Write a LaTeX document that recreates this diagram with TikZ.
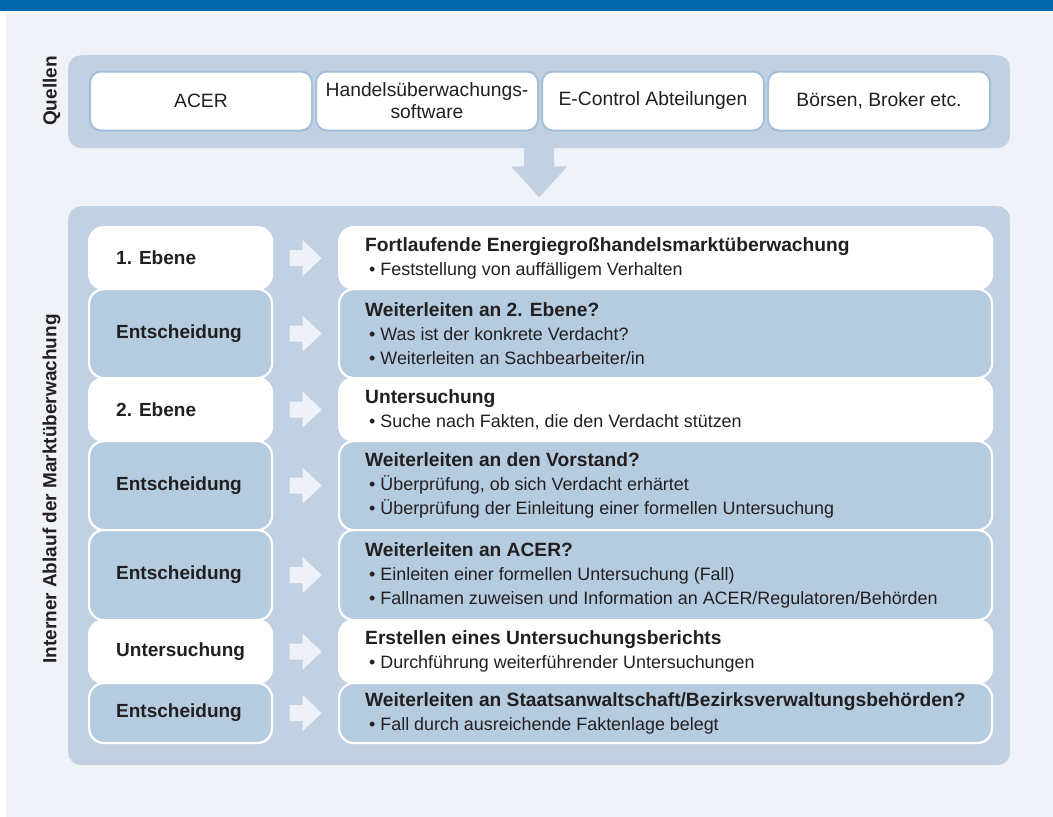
\documentclass[tikz,border=0pt]{standalone}
\usepackage{fontspec}
\setmainfont{Liberation Sans}
\usetikzlibrary{calc}
\definecolor{barblue}{HTML}{0069AD}
\definecolor{bglight}{HTML}{EFF3F8}
\definecolor{panelc}{HTML}{C1D1E2}
\definecolor{rowblue}{HTML}{B5CBE0}
\definecolor{srcborder}{HTML}{A3BFDA}
\definecolor{txt}{HTML}{231F20}
\definecolor{arrowfill}{HTML}{EEF2F8}
\tikzset{
  panelbox/.style={fill=panelc, rounded corners=13pt, inner sep=0pt, anchor=north west},
  srcbox/.style={draw=srcborder, line width=2pt, fill=white, rounded corners=11pt,
    minimum width=222pt, minimum height=59pt, inner sep=0pt, align=center, anchor=north west,
    font=\fontsize{19.3}{23}\selectfont, text=txt},
  rowbox/.style={draw=white, line width=2.2pt, rounded corners=15pt, inner sep=0pt, anchor=north west},
  lbox/.style={rowbox, minimum width=183pt},
  rbox/.style={rowbox, minimum width=653pt},
  whiterow/.style={fill=white},
  bluerow/.style={fill=rowblue},
  ltext/.style={anchor=west, inner sep=0pt, text=txt, font=\bfseries\fontsize{19}{24}\selectfont},
  rtext/.style={anchor=west, inner sep=0pt, align=left, text=txt, font=\fontsize{17.9}{24}\selectfont},
  vlabel/.style={rotate=90, inner sep=0pt, text=txt, font=\bfseries\fontsize{19}{23}\selectfont},
  blockarrow/.pic={\fill[arrowfill] (-16,-8) -- (-3,-8) -- (-3,-18) -- (16,0) -- (-3,18) -- (-3,8) -- (-16,8) -- cycle;},
  downarrow/.pic={\fill[panelc] (-15,-1) -- (15,-1) -- (15,18) -- (28,18) -- (0,49) -- (-28,18) -- (-15,18) -- cycle;}
}
\newcommand{\ttl}[1]{{\bfseries\fontsize{19.2}{24}\selectfont #1}}
\newcommand{\bul}{\hspace*{4pt}\textbullet\ }
\begin{document}
\begin{tikzpicture}[x=1pt,y=-1pt]
\useasboundingbox (0,0) rectangle (1053,817);
\fill[white] (0,0) rectangle (1053,817);
\fill[bglight] (6,11) rectangle (1053,817);
\fill[barblue] (0,0) rectangle (1053,11);
\fill[white!60!bglight] (6,11) rectangle (1053,12.5);

% Quellen
\node[panelbox, minimum width=942pt, minimum height=93pt] (qpanel) at (68,55) {};
\node[vlabel] (qlabel) at (51.5,91) {Quellen};
\node[srcbox] (s1) at (89,70.5) {ACER};
\node[srcbox] (s2) at (315,70.5) {Handelsüberwachungs-\\[-1pt]software};
\node[srcbox] (s3) at (541,70.5) {E-Control Abteilungen};
\node[srcbox] (s4) at (767,70.5) {Börsen, Broker etc.};

% main panel
\node[panelbox, minimum width=942pt, minimum height=559pt] (mpanel) at (68,206) {};
\pic at (qpanel.south) {downarrow};
\node[vlabel] (ilabel) at (51.5,489) {Interner Ablauf der Marktüberwachung};

% rows
\node[lbox, whiterow, minimum height=62pt] (l1) at (88,226) {};
\node[rbox, whiterow, minimum height=62pt] (r1) at (338,226) {};
\node[lbox, bluerow, minimum height=89pt] (l2) at (88,288) {};
\node[rbox, bluerow, minimum height=89pt] (r2) at (338,288) {};
\node[lbox, whiterow, minimum height=63pt] (l3) at (88,377) {};
\node[rbox, whiterow, minimum height=63pt] (r3) at (338,377) {};
\node[lbox, bluerow, minimum height=89pt] (l4) at (88,440) {};
\node[rbox, bluerow, minimum height=89pt] (r4) at (338,440) {};
\node[lbox, bluerow, minimum height=90pt] (l5) at (88,529) {};
\node[rbox, bluerow, minimum height=90pt] (r5) at (338,529) {};
\node[lbox, whiterow, minimum height=63pt] (l6) at (88,619) {};
\node[rbox, whiterow, minimum height=63pt] (r6) at (338,619) {};
\node[lbox, bluerow, minimum height=60pt] (l7) at (88,682) {};
\node[rbox, bluerow, minimum height=60pt] (r7) at (338,682) {};

\node[ltext] (lt1) at ([xshift=28pt]l1.west) {1. Ebene};
\node[ltext] (lt2) at ([xshift=28pt]l2.west) {Entscheidung};
\node[ltext] (lt3) at ([xshift=28pt]l3.west) {2. Ebene};
\node[ltext] (lt4) at ([xshift=28pt]l4.west) {Entscheidung};
\node[ltext] (lt5) at ([xshift=28pt]l5.west) {Entscheidung};
\node[ltext] (lt6) at ([xshift=28pt]l6.west) {Untersuchung};
\node[ltext] (lt7) at ([xshift=28pt]l7.west) {Entscheidung};

\node[rtext] (rt1) at ([xshift=27pt]r1.west) {\ttl{Fortlaufende Energiegroßhandelsmarktüberwachung}\\
  \bul Feststellung von auffälligem Verhalten};
\node[rtext] (rt2) at ([xshift=27pt]r2.west) {\ttl{Weiterleiten an 2. Ebene?}\\
  \bul Was ist der konkrete Verdacht?\\
  \bul Weiterleiten an Sachbearbeiter/in};
\node[rtext] (rt3) at ([xshift=27pt]r3.west) {\ttl{Untersuchung}\\
  \bul Suche nach Fakten, die den Verdacht stützen};
\node[rtext] (rt4) at ([xshift=27pt]r4.west) {\ttl{Weiterleiten an den Vorstand?}\\
  \bul Überprüfung, ob sich Verdacht erhärtet\\
  \bul Überprüfung der Einleitung einer formellen Untersuchung};
\node[rtext] (rt5) at ([xshift=27pt]r5.west) {\ttl{Weiterleiten an ACER?}\\
  \bul Einleiten einer formellen Untersuchung (Fall)\\
  \bul Fallnamen zuweisen und Information an ACER/Regulatoren/Behörden};
\node[rtext] (rt6) at ([xshift=27pt]r6.west) {\ttl{Erstellen eines Untersuchungsberichts}\\
  \bul Durchführung weiterführender Untersuchungen};
\node[rtext] (rt7) at ([xshift=27pt]r7.west) {\ttl{Weiterleiten an Staatsanwaltschaft/Bezirksverwaltungsbehörden?}\\
  \bul Fall durch ausreichende Faktenlage belegt};

% arrows
\pic at ($(l1.east)!0.5!(r1.west)$) {blockarrow};
\pic at ($(l2.east)!0.5!(r2.west)$) {blockarrow};
\pic at ($(l3.east)!0.5!(r3.west)$) {blockarrow};
\pic at ($(l4.east)!0.5!(r4.west)$) {blockarrow};
\pic at ($(l5.east)!0.5!(r5.west)$) {blockarrow};
\pic at ($(l6.east)!0.5!(r6.west)$) {blockarrow};
\pic at ($(l7.east)!0.5!(r7.west)$) {blockarrow};
\end{tikzpicture}
\end{document}
